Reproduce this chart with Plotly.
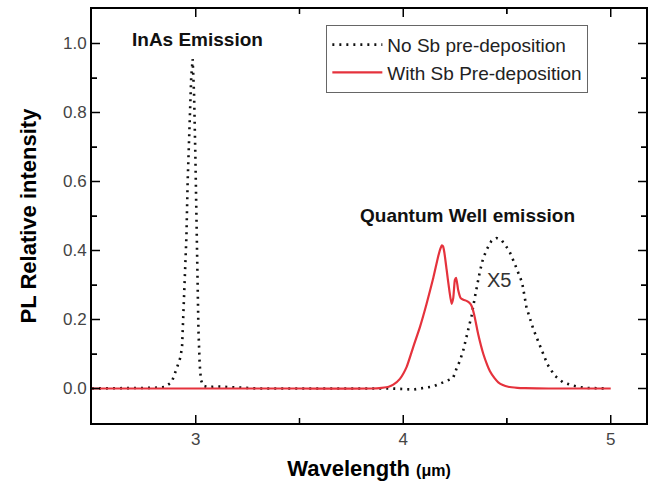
import plotly.graph_objects as go

# Data
nosb_x = [2.5, 2.6, 2.7, 2.75, 2.8, 2.85, 2.884, 2.908, 2.926, 2.934, 2.947, 2.955, 2.961, 2.97, 2.978,
          2.985, 2.992, 2.998, 3.003, 3.008, 3.013, 3.019, 3.025, 3.035, 3.06, 3.1, 3.15, 3.2, 3.3,
          3.5, 3.7, 3.9, 3.944, 4.05, 4.145, 4.193, 4.24, 4.257, 4.273, 4.289, 4.305, 4.316, 4.329,
          4.345, 4.358, 4.369, 4.382, 4.40, 4.425, 4.45, 4.474, 4.51, 4.535, 4.554, 4.573, 4.594,
          4.627, 4.659, 4.695, 4.73, 4.77, 4.82, 4.87, 4.92, 4.98]
nosb_y = [0.0, 0.0, 0.0, 0.002, 0.002, 0.004, 0.018, 0.058, 0.09, 0.12, 0.31, 0.44, 0.60, 0.76, 0.90,
          0.955, 0.85, 0.68, 0.50, 0.33, 0.17, 0.07, 0.025, 0.008, 0.004, 0.006, 0.005, 0.003, 0.0,
          0.0, 0.0, 0.0, 0.0, -0.003, 0.006, 0.018, 0.03, 0.058, 0.08, 0.11, 0.148, 0.177, 0.21,
          0.264, 0.31, 0.338, 0.37, 0.40, 0.428, 0.436, 0.43, 0.40, 0.365, 0.336, 0.307, 0.235,
          0.172, 0.124, 0.07, 0.037, 0.018, 0.008, 0.002, 0.001, 0.0]

sb_x = [2.5, 3.0, 3.5, 3.85, 3.896, 3.93, 3.952, 3.984, 4.016, 4.048, 4.08, 4.112, 4.145, 4.169, 4.18,
        4.186, 4.192, 4.198, 4.209, 4.222, 4.233, 4.241, 4.249, 4.255, 4.265, 4.277, 4.29, 4.305,
        4.32, 4.329, 4.342, 4.361, 4.386, 4.405, 4.418, 4.44, 4.458, 4.48, 4.506, 4.55, 4.586, 4.7,
        4.85, 5.0]
sb_y = [0.0, 0.0, 0.0, 0.0, 0.002, 0.005, 0.011, 0.028, 0.062, 0.12, 0.177, 0.244, 0.321, 0.384, 0.407,
        0.415, 0.412, 0.395, 0.345, 0.285, 0.245, 0.262, 0.315, 0.321, 0.285, 0.262, 0.257, 0.254,
        0.248, 0.240, 0.214, 0.158, 0.10, 0.068, 0.050, 0.030, 0.018, 0.010, 0.005, 0.002, 0.001, 0.0,
        0.0, 0.0]

series_names = ["No Sb pre-deposition", "With Sb Pre-deposition"]
x_ticks = [3, 4, 5]
x_minor_ticks = [3.5, 4.5]
y_ticks = [0.0, 0.2, 0.4, 0.6, 0.8, 1.0]
y_minor_ticks = [0.1, 0.3, 0.5, 0.7, 0.9]

FONT = "Arial"

fig = go.Figure()
fig.add_trace(go.Scatter(x=nosb_x, y=nosb_y, mode="lines", name=series_names[0],
                         line=dict(color="#111111", width=2.6, dash="2px,5px")))
fig.add_trace(go.Scatter(x=sb_x, y=sb_y, mode="lines", name=series_names[1],
                         line=dict(color="#e5323c", width=2.2, shape="spline", smoothing=0.5)))

base = dict(showline=True, linecolor="black", linewidth=2, ticks="inside", ticklen=8,
            tickcolor="black", showgrid=False, zeroline=False, mirror="allticks")

fig.update_xaxes(range=[2.5, 5.17], tickvals=x_ticks,
                 minor=dict(ticks="inside", ticklen=5, dtick=0.5, tick0=2.5, tickcolor="black"),
                 **base)
fig.update_yaxes(range=[-0.1, 1.1], tickvals=y_ticks, tickformat=".1f",
                 minor=dict(ticks="inside", ticklen=5, dtick=0.1, tick0=0, tickcolor="black"),
                 **base)

fig.update_xaxes(tickfont=dict(family=FONT, size=17, color="#444444"),
                 title=dict(text="<b>Wavelength <span style='font-size:16px'>(μm)</span></b>",
                            font=dict(family=FONT, size=22, color="black"), standoff=12))
fig.update_yaxes(tickfont=dict(family=FONT, size=17, color="#444444"),
                 title=dict(text="<b>PL Relative intensity</b>",
                            font=dict(family=FONT, size=22, color="black"), standoff=20))

# Tick marks (inside, mirrored), placed at the tick values through the axis scales
tick_line = dict(color="black", width=1.5)
for vals, length in ((x_ticks, 8), (x_minor_ticks, 5)):
    for v in vals:
        fig.add_shape(type="line", xref="x", yref="y domain", ysizemode="pixel", yanchor=0,
                      x0=v, x1=v, y0=0, y1=length, line=tick_line)
        fig.add_shape(type="line", xref="x", yref="y domain", ysizemode="pixel", yanchor=1,
                      x0=v, x1=v, y0=0, y1=-length, line=tick_line)
for vals, length in ((y_ticks, 8), (y_minor_ticks, 5)):
    for v in vals:
        fig.add_shape(type="line", yref="y", xref="x domain", xsizemode="pixel", xanchor=0,
                      y0=v, y1=v, x0=0, x1=length, line=tick_line)
        fig.add_shape(type="line", yref="y", xref="x domain", xsizemode="pixel", xanchor=1,
                      y0=v, y1=v, x0=0, x1=-length, line=tick_line)

fig.add_annotation(x=3.01, y=1.013, text="<b>InAs Emission</b>", showarrow=False,
                   font=dict(family=FONT, size=19, color="#111111"))
fig.add_annotation(x=4.31, y=0.502, text="<b>Quantum Well emission</b>", showarrow=False,
                   font=dict(family=FONT, size=19, color="#111111"))
fig.add_annotation(x=4.46, y=0.315, text="X5", showarrow=False,
                   font=dict(family=FONT, size=20, color="#333333"))

fig.update_layout(
    width=655, height=486,
    margin=dict(l=92, r=7, t=7, b=63),
    plot_bgcolor="white", paper_bgcolor="white",
    legend=dict(x=0.423, y=0.962, xanchor="left", yanchor="top",
                bordercolor="#666666", borderwidth=1, bgcolor="white",
                font=dict(family=FONT, size=19, color="#222222"),
                itemwidth=50, tracegroupgap=0),
    showlegend=True,
)

fig.write_html("out.html")
